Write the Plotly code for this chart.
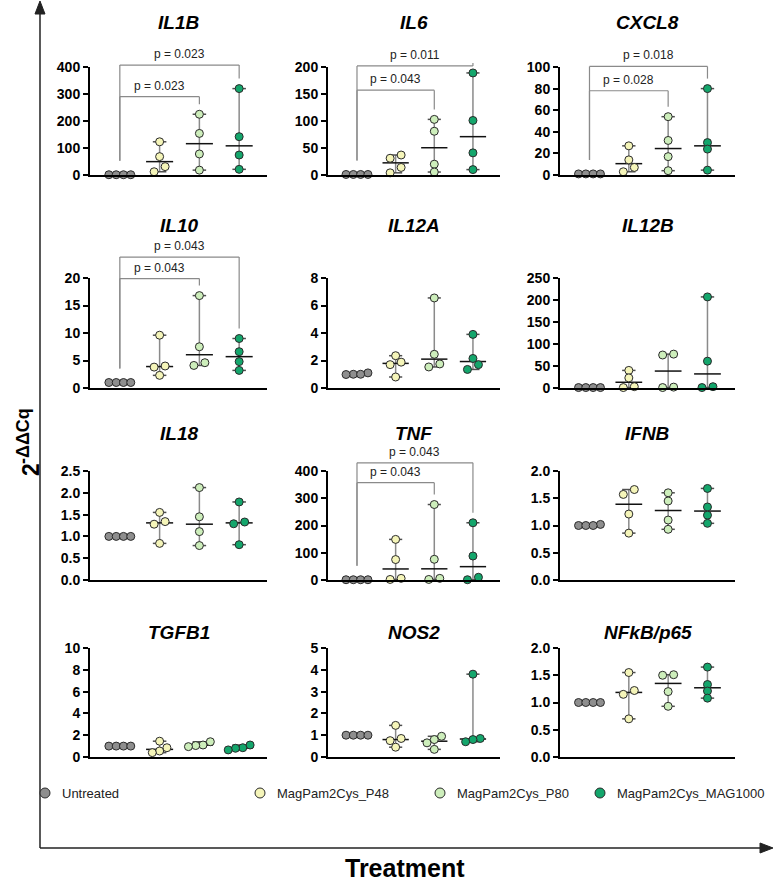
import plotly.graph_objects as go

W, H = 775, 883

GROUPS = ["Untreated", "MagPam2Cys_P48", "MagPam2Cys_P80", "MagPam2Cys_MAG1000"]
COLORS = ["#8e8e8e", "#f5f5b9", "#cdeebb", "#14a66c"]

GENES = ["IL1B", "IL6", "CXCL8", "IL10", "IL12A", "IL12B",
         "IL18", "TNF", "IFNB", "TGFB1", "NOS2", "NFkB/p65"]

# values (2^-ddCq) per gene: [Untreated, P48, P80, MAG1000], 4 replicates each
IL1B = [[1, 1, 1, 1], [123, 68, 31, 12], [225, 154, 78, 18], [320, 142, 74, 21]]
IL6 = [[1, 1, 1, 1], [37, 31, 14, 4], [103, 81, 20, 5.5], [189, 101, 41, 10]]
CXCL8 = [[1, 1, 1, 1], [27, 14, 7, 3], [54, 32, 17, 4], [80, 30, 24, 4.5]]
IL10 = [[1, 1, 1, 1], [9.6, 4.0, 3.8, 2.3], [16.8, 7.5, 4.6, 4.1], [9.0, 6.6, 4.8, 3.2]]
IL12A = [[1.0, 1.1, 1.0, 0.98], [2.35, 1.88, 1.7, 0.8], [6.55, 2.45, 1.75, 1.53], [3.9, 2.15, 1.7, 1.35]]
IL12B = [[1, 1, 1, 1], [40, 23, 3, 1], [77, 75, 2, 1], [207, 61, 3, 1]]
IL18 = [[1, 1, 1, 1], [1.55, 1.34, 1.28, 0.84], [2.12, 1.45, 1.11, 0.79], [1.79, 1.33, 1.29, 0.81]]
TNF = [[1, 1, 1, 1], [149, 75, 6, 2], [277, 76, 6, 2], [210, 88, 10, 1]]
IFNB = [[1.0, 1.02, 1.0, 1.0], [1.66, 1.57, 1.21, 0.86], [1.6, 1.45, 1.1, 0.93], [1.68, 1.34, 1.19, 1.04]]
TGFB1 = [[1, 1, 1, 1], [1.45, 0.85, 0.55, 0.4], [1.4, 1.1, 1.05, 0.95], [1.1, 0.85, 0.8, 0.65]]
NOS2 = [[1, 1, 1, 1], [1.45, 0.85, 0.75, 0.45], [0.95, 0.8, 0.65, 0.35], [3.8, 0.85, 0.8, 0.7]]
NFKB = [[1, 1, 1, 1], [1.55, 1.22, 1.15, 0.7], [1.51, 1.5, 1.2, 0.93], [1.65, 1.33, 1.21, 1.08]]

DATA = [IL1B, IL6, CXCL8, IL10, IL12A, IL12B, IL18, TNF, IFNB, TGFB1, NOS2, NFKB]

Y_MAX = [400, 200, 100, 20, 8, 250, 2.5, 400, 2, 10, 5, 2]
Y_STEP = [100, 50, 20, 5, 2, 50, 0.5, 100, 0.5, 2, 1, 0.5]
Y_DEC = [0, 0, 0, 0, 0, 0, 1, 0, 1, 0, 0, 1]

# significance brackets: (compared group index, bracket level, label)
BRACKETS = {
    "IL1B": [(2, 290, "p = 0.023"), (3, 407, "p = 0.023")],
    "IL6": [(2, 157, "p = 0.043"), (3, 202, "p = 0.011")],
    "CXCL8": [(2, 78, "p = 0.028"), (3, 100.5, "p = 0.018")],
    "IL10": [(2, 19.9, "p = 0.043"), (3, 23.8, "p = 0.043")],
    "TNF": [(2, 357, "p = 0.043"), (3, 430, "p = 0.043")],
}

# ---------------- layout geometry (pixels) ----------------
COL_PX = [(90, 267), (328, 500), (560, 735)]
ROW_PX = [(67, 175), (278, 388), (471, 580), (648, 757)]
TITLE_PX = [22, 225, 433, 632]
X_RANGE = [-0.75, 3.7]
FONT = "Liberation Sans, Arial, sans-serif"


def spread(vals, yppu, xppu):
    """GraphPad-like horizontal spreading of overlapping points."""
    order = sorted(range(len(vals)), key=lambda i: -vals[i])
    rows, cur = [], [order[0]]
    for i in order[1:]:
        if (vals[cur[-1]] - vals[i]) * yppu < 5.8:
            cur.append(i)
        else:
            rows.append(cur)
            cur = [i]
    rows.append(cur)
    off = [0.0] * len(vals)
    for r in rows:
        n = len(r)
        s = 11.0 if n == 2 else 7.3
        for k, i in enumerate(sorted(r, key=lambda j: vals[j])):
            off[i] = (k - (n - 1) / 2) * s / xppu
    return off


def median(v):
    s = sorted(v)
    n = len(s)
    return (s[n // 2 - 1] + s[n // 2]) / 2 if n % 2 == 0 else s[n // 2]


fig = go.Figure()
layout = {}
annotations = []
shapes = []

for idx, gene in enumerate(GENES):
    r, c = divmod(idx, 3)
    n = idx + 1
    sfx = "" if n == 1 else str(n)
    xname, yname = "x" + sfx, "y" + sfx
    x0, x1 = COL_PX[c]
    yt, yb = ROW_PX[r]
    ymax = Y_MAX[idx]
    xppu = (x1 - x0) / (X_RANGE[1] - X_RANGE[0])
    yppu = (yb - yt) / ymax
    data = DATA[idx]

    layout["xaxis" + sfx] = dict(
        domain=[x0 / W, x1 / W], range=X_RANGE, anchor=yname, automargin=False,
        showline=True, linecolor="black", linewidth=2, showticklabels=False,
        ticks="", showgrid=False, zeroline=False, fixedrange=True)
    nt = int(round(ymax / Y_STEP[idx]))
    tv = [k * Y_STEP[idx] for k in range(nt + 1)]
    tt = [f"{v:.{Y_DEC[idx]}f}" for v in tv]
    layout["yaxis" + sfx] = dict(
        domain=[1 - yb / H, 1 - yt / H], range=[0, ymax], anchor=xname,
        automargin=False,
        showline=True, linecolor="black", linewidth=2,
        ticks="outside", ticklen=5, tickwidth=2, tickcolor="black",
        tickvals=tv, ticktext=tt, showgrid=False, zeroline=False,
        tickfont=dict(family=FONT, size=14, color="black", weight="bold"),
        fixedrange=True)

    # range whiskers, caps, medians
    wx, wy, cx, cy, mx, my = [], [], [], [], [], []
    for g, vals in enumerate(data):
        lo, hi, md = min(vals), max(vals), median(vals)
        wx += [g, g, None]
        wy += [lo, hi, None]
        for v in (lo, hi):
            cx += [g - 0.17, g + 0.17, None]
            cy += [v, v, None]
        mx += [g - 0.34, g + 0.34, None]
        my += [md, md, None]
    fig.add_trace(go.Scatter(x=wx, y=wy, mode="lines", xaxis=xname, yaxis=yname,
                             line=dict(color="#8a8a8a", width=1.5),
                             hoverinfo="skip", showlegend=False))
    fig.add_trace(go.Scatter(x=cx, y=cy, mode="lines", xaxis=xname, yaxis=yname,
                             line=dict(color="#505050", width=1.5),
                             hoverinfo="skip", showlegend=False))
    fig.add_trace(go.Scatter(x=mx, y=my, mode="lines", xaxis=xname, yaxis=yname,
                             line=dict(color="#111111", width=1.5),
                             hoverinfo="skip", showlegend=False))
    for g, vals in enumerate(data):
        off = spread(vals, yppu, xppu)
        fig.add_trace(go.Scatter(
            x=[g + o for o in off], y=vals, mode="markers",
            xaxis=xname, yaxis=yname, cliponaxis=False,
            marker=dict(size=8, color=COLORS[g], line=dict(color="#2a2a2a", width=1)),
            name=GROUPS[g], showlegend=False, hoverinfo="skip"))

    # gene title
    annotations.append(dict(
        text=f"<b><i>{gene}</i></b>", xref="x" + sfx + " domain", x=0.5,
        yref="paper", y=1 - TITLE_PX[r] / H, xanchor="center", yanchor="middle",
        showarrow=False, font=dict(family=FONT, size=19, color="black")))

    # significance brackets
    ph = yb - yt
    for g, level, label in BRACKETS.get(gene, []):
        ylev = level / ymax
        yl = (max(data[0]) * yppu + 14) / ph
        yr = (max(data[g]) * yppu + 10) / ph
        common = dict(type="line", xref=xname, yref=yname + " domain",
                      line=dict(color="#8a8a8a", width=1.2), layer="above")
        shapes.append(dict(common, x0=0, x1=0, y0=yl, y1=ylev))
        shapes.append(dict(common, x0=0, x1=g, y0=ylev, y1=ylev))
        shapes.append(dict(common, x0=g, x1=g, y0=yr, y1=ylev))
        annotations.append(dict(
            text=label, xref=xname, x=g / 2, yref=yname + " domain", y=ylev,
            yshift=2, xanchor="center", yanchor="bottom", showarrow=False,
            font=dict(family=FONT, size=12, color="#222222")))

# ---------------- outer axis arrows & titles ----------------
AX_X, AX_Y = 40, 848        # corner of the outer "Treatment" axes (px)
TOP_Y, RIGHT_X = 1, 773     # arrow tips (px)


def px(x, y):
    return f"{x / W:.5f},{1 - y / H:.5f}"


arrow_line = dict(color="#222222", width=1.5)
shapes.append(dict(type="path", xref="paper", yref="paper", line=arrow_line,
                   path=f"M {px(AX_X, AX_Y)} L {px(AX_X, TOP_Y + 10)}"))
shapes.append(dict(type="path", xref="paper", yref="paper", line=arrow_line,
                   path=f"M {px(AX_X, AX_Y)} L {px(RIGHT_X - 10, AX_Y)}"))
shapes.append(dict(type="path", xref="paper", yref="paper", fillcolor="#222222",
                   line=dict(color="#222222", width=1),
                   path=f"M {px(AX_X, TOP_Y)} L {px(AX_X - 5, TOP_Y + 13)} "
                        f"L {px(AX_X + 5, TOP_Y + 13)} Z"))
shapes.append(dict(type="path", xref="paper", yref="paper", fillcolor="#222222",
                   line=dict(color="#222222", width=1),
                   path=f"M {px(RIGHT_X, AX_Y)} L {px(RIGHT_X - 13, AX_Y - 5)} "
                        f"L {px(RIGHT_X - 13, AX_Y + 5)} Z"))

# y title "2^-ΔΔCq": base and raised exponent, rotated
annotations.append(dict(
    text="<b>2</b>", x=31 / W, y=1 - 470 / H, xref="paper", yref="paper",
    textangle=-90, showarrow=False, xanchor="center", yanchor="middle",
    font=dict(family=FONT, size=23, color="black")))
annotations.append(dict(
    text="<b>-ΔΔCq</b>", x=23 / W, y=1 - 436 / H, xref="paper", yref="paper",
    textangle=-90, showarrow=False, xanchor="center", yanchor="middle",
    font=dict(family=FONT, size=18, color="black")))
annotations.append(dict(text="<b>Treatment</b>", x=405 / W, y=1 - 868 / H,
                        xref="paper", yref="paper", showarrow=False,
                        xanchor="center", yanchor="middle",
                        font=dict(family=FONT, size=25, color="black")))

# ---------------- custom legend ----------------
LEG_MARK_PX = [45, 260, 440, 600]
LEG_Y_PX = 793
for g, name in enumerate(GROUPS):
    shapes.append(dict(type="circle", xref="paper", yref="paper",
                       xsizemode="pixel", ysizemode="pixel",
                       xanchor=LEG_MARK_PX[g] / W, yanchor=1 - LEG_Y_PX / H,
                       x0=-5, x1=5, y0=-5, y1=5,
                       fillcolor=COLORS[g], line=dict(color="#2a2a2a", width=1)))
    annotations.append(dict(text=name, x=(LEG_MARK_PX[g] + 15) / W, y=1 - LEG_Y_PX / H,
                            xref="paper", yref="paper", showarrow=False,
                            xanchor="left", yanchor="middle",
                            font=dict(family=FONT, size=13, color="#222222")))

fig.update_layout(
    width=W, height=H, margin=dict(l=0, r=0, t=0, b=0, pad=0, autoexpand=False),
    template="none",
    paper_bgcolor="white", plot_bgcolor="white",
    showlegend=False, annotations=annotations, shapes=shapes,
    font=dict(family=FONT), **layout)

fig.write_html("out.html", config={"displayModeBar": False})
